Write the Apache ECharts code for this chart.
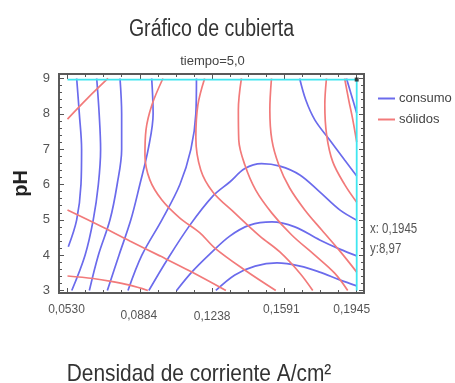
<!DOCTYPE html>
<html>
<head>
<meta charset="utf-8">
<script src="https://cdn.jsdelivr.net/npm/echarts@6/dist/echarts.min.js"></script>
<style>
  html, body { margin: 0; padding: 0; background: #ffffff; }
  #chart { width: 455px; height: 383px; }
</style>
</head>
<body>
<div id="chart"></div>
<script>
// Axis ticks and labels
const xMajor = [0.0530, 0.0884, 0.1238, 0.1591, 0.1945];
const xTickLabels = ['0,0530', '0,0884', '0,1238', '0,1591', '0,1945'];
const yMajor = [3, 4, 5, 6, 7, 8, 9];
const yTickLabels = ['3', '4', '5', '6', '7', '8', '9'];

// Crosshair readout
const cursorX = 0.1945;
const cursorY = 8.97;
const cursorLabels = ['x: 0,1945', 'y:8,97'];

// consumo contour lines: [densidad de corriente, pH]
const consumo1 = [[0.0575, 9], [0.0588, 8], [0.0599, 7], [0.0596, 6], [0.0575, 5], [0.0534, 4.24]];
const consumo2 = [[0.0673, 9], [0.0685, 8], [0.0692, 7], [0.0681, 6], [0.0656, 5], [0.0616, 4], [0.0551, 3]];
const consumo3 = [[0.0787, 9], [0.0795, 8], [0.0795, 7], [0.0773, 6], [0.0738, 5], [0.0681, 4], [0.0637, 3]];
const consumo4 = [[0.0942, 9], [0.0949, 8], [0.0925, 7], [0.0884, 6], [0.0840, 5], [0.0782, 4], [0.0725, 3]];
const consumo5 = [[0.1161, 9], [0.1158, 8], [0.1134, 7], [0.1080, 6], [0.0992, 5], [0.0894, 4], [0.0826, 3]];
const consumo6 = [[0.0928, 3.0], [0.1021, 3.90], [0.1129, 4.85], [0.1241, 5.67], [0.1324, 6.07], [0.1398, 6.45],
                  [0.1479, 6.59], [0.1569, 6.52], [0.1667, 6.27], [0.1764, 5.79], [0.1862, 5.28], [0.1945, 4.99]];
const consumo7 = [[0.1064, 3.0], [0.1138, 3.52], [0.1226, 4.03], [0.1324, 4.54], [0.1422, 4.85], [0.1530, 4.94],
                  [0.1642, 4.80], [0.1764, 4.43], [0.1862, 4.17], [0.1945, 3.98]];
const consumo8 = [[0.1256, 3.0], [0.1349, 3.44], [0.1448, 3.69], [0.1555, 3.78], [0.1668, 3.69], [0.1764, 3.52],
                  [0.1862, 3.30], [0.1945, 3.13]];
const consumo9 = [[0.1666, 9], [0.1696, 8.39], [0.1740, 7.83], [0.1813, 7.26], [0.1886, 6.69], [0.1945, 6.24]];
const consumo10 = [[0.1895, 9], [0.1916, 8.59], [0.1945, 8.02]];

// sólidos contour lines: [densidad de corriente, pH]
const solidos1 = [[0.0530, 7.85], [0.0630, 8.45], [0.0728, 9.0]];
const solidos2 = [[0.0530, 3.41], [0.0655, 3.34], [0.0743, 3.26], [0.0835, 3.15], [0.0923, 3.0]];
const solidos3 = [[0.0530, 5.28], [0.0689, 4.83], [0.0835, 4.40], [0.0982, 3.98], [0.1129, 3.55], [0.1305, 3.0]];
const solidos4 = [[0.0997, 9], [0.0943, 8.25], [0.0914, 7.54], [0.0909, 6.83], [0.0933, 6.13], [0.0992, 5.56],
                  [0.1080, 5.05], [0.1178, 4.63], [0.1251, 4.20], [0.1397, 3.58], [0.1549, 3.0]];
const solidos5 = [[0.1201, 9], [0.1168, 8.25], [0.1158, 7.32], [0.1182, 6.41], [0.1241, 5.79], [0.1349, 5.19],
                  [0.1471, 4.54], [0.1569, 4.09], [0.1667, 3.49], [0.1730, 3.0]];
const solidos6 = [[0.1381, 9], [0.1366, 8.11], [0.1368, 7.26], [0.1398, 6.55], [0.1451, 5.84], [0.1530, 5.19],
                  [0.1627, 4.57], [0.1740, 4.0], [0.1837, 3.49], [0.1901, 3.0]];
const solidos7 = [[0.1528, 9], [0.1520, 8.11], [0.1530, 7.26], [0.1564, 6.55], [0.1617, 5.90], [0.1691, 5.28],
                  [0.1774, 4.71], [0.1862, 4.12], [0.1945, 3.52]];
const solidos8 = [[0.1797, 9], [0.1789, 8.25], [0.1798, 7.40], [0.1828, 6.64], [0.1887, 5.99], [0.1945, 5.50]];
const solidos9 = [[0.1886, 9], [0.1906, 8.39], [0.1926, 7.83], [0.1945, 7.20]];

const consumoLines = [consumo1, consumo2, consumo3, consumo4, consumo5, consumo6, consumo7, consumo8, consumo9, consumo10];
const solidosLines = [solidos1, solidos2, solidos3, solidos4, solidos5, solidos6, solidos7, solidos8, solidos9];

const BLUE = '#6b6bec';
const RED = '#f27a7a';
const CYAN = '#3fe6f0';
const FONT = "'Liberation Sans', Arial, sans-serif";

// Frame extends slightly beyond the data range
const X_MIN = 0.04885, X_MAX = 0.19807;
const Y_MIN = 2.929, Y_MAX = 9.127;

// Minor tick positions: four steps between x labels, 0.2 pH steps
const xMinor = [];
for (let i = 0; i < xMajor.length - 1; i++) {
  for (let k = 1; k < 4; k++) xMinor.push(xMajor[i] + (xMajor[i + 1] - xMajor[i]) * k / 4);
}
const yMinor = [];
for (let v = 3; v < 9; v++) for (let k = 1; k < 5; k++) yMinor.push(v + k * 0.2);

const tickColor = '#555';
function xAxisDef(position, ticks, len, withLabels) {
  return {
    type: 'value', position, min: X_MIN, max: X_MAX,
    axisLine: { show: false },
    splitLine: { show: false },
    axisTick: { show: true, inside: true, length: len, customValues: ticks, lineStyle: { color: tickColor, width: 1 } },
    axisLabel: withLabels ? {
      show: true, customValues: xMajor, margin: 11,
      fontFamily: FONT, fontSize: 12, color: '#555',
      formatter: function (v) {
        let idx = 0, best = Infinity;
        xMajor.forEach(function (m, i) { if (Math.abs(m - v) < best) { best = Math.abs(m - v); idx = i; } });
        return '{s' + idx + '|' + xTickLabels[idx] + '}';
      },
      rich: {
        s0: { padding: [0, 2, 0, 0] },
        s1: { padding: [6, 2, 0, 0] },
        s2: { padding: [7, 0, 0, 0] },
        s3: { padding: [0, 6, 0, 0] },
        s4: { padding: [0, 10, 0, 0] }
      }
    } : { show: false }
  };
}
function yAxisDef(position, ticks, len, withLabels) {
  return {
    type: 'value', position, min: Y_MIN, max: Y_MAX,
    axisLine: { show: false },
    splitLine: { show: false },
    axisTick: { show: true, inside: true, length: len, customValues: ticks, lineStyle: { color: tickColor, width: 1 } },
    axisLabel: withLabels ? {
      show: true, customValues: yMajor, margin: 9,
      fontFamily: FONT, fontSize: 13, color: '#555',
      formatter: function (v) { return yTickLabels[yMajor.indexOf(Math.round(v))]; }
    } : { show: false },
    name: withLabels ? 'pH' : '',
    nameLocation: 'middle', nameGap: 26, nameRotate: 90,
    nameTextStyle: { fontFamily: FONT, fontWeight: 'bold', fontSize: 20, color: '#222' }
  };
}

function contour(name, data, color) {
  return {
    type: 'line', name: name, data: data,
    xAxisIndex: 0, yAxisIndex: 0,
    symbol: 'none', smooth: 0.35, silent: true,
    lineStyle: { color: color, width: 1.7 },
    itemStyle: { color: color },
    z: 3
  };
}

const series = [];
consumoLines.forEach(function (d) { series.push(contour('consumo', d, BLUE)); });
solidosLines.forEach(function (d) { series.push(contour('sólidos', d, RED)); });

// Crosshair at the selected point
series.push({
  type: 'line', name: 'cursorH', data: [[xMajor[0], cursorY], [cursorX, cursorY]],
  symbol: 'none', silent: true, lineStyle: { color: CYAN, width: 1.8 }, z: 4
});
series.push({
  type: 'line', name: 'cursorV', data: [[cursorX, cursorY], [cursorX, yMajor[0]]],
  symbol: 'none', silent: true, lineStyle: { color: CYAN, width: 1.8 }, z: 4
});
series.push({
  type: 'scatter', name: 'cursorPoint', data: [[cursorX, cursorY]],
  symbol: 'rect', symbolSize: 4, silent: true, itemStyle: { color: '#1a1a1a' }, z: 5
});

function label(text, x, y, size, color, align, sx) {
  return {
    type: 'text', x: x, y: y, scaleX: sx, silent: true,
    style: { text: text, fontFamily: FONT, fontSize: size, fill: color,
             align: align, textAlign: align, verticalAlign: 'top', textVerticalAlign: 'top' }
  };
}

const chart = echarts.init(document.getElementById('chart'), null, { renderer: 'canvas' });
chart.setOption({
  animation: false,
  backgroundColor: '#ffffff',
  grid: { left: 59, top: 74, width: 305, height: 219, show: true, borderColor: '#5a5a5a', borderWidth: 2, backgroundColor: 'transparent' },
  xAxis: [
    xAxisDef('bottom', xMajor, 5, true),
    xAxisDef('bottom', xMinor, 3, false),
    xAxisDef('top', xMajor, 5, false),
    xAxisDef('top', xMinor, 3, false)
  ],
  yAxis: [
    yAxisDef('left', yMajor, 5, true),
    yAxisDef('left', yMinor, 3, false),
    yAxisDef('right', yMajor, 5, false),
    yAxisDef('right', yMinor, 3, false)
  ],
  legend: {
    orient: 'vertical', left: 378, top: 92, padding: 0,
    data: ['consumo', 'sólidos'],
    icon: 'rect', itemWidth: 17, itemHeight: 2, itemGap: 8,
    textStyle: { fontFamily: FONT, fontSize: 13, color: '#444', padding: [0, 0, 0, -1] },
    selectedMode: false
  },
  graphic: [
    label('Gráfico de cubierta', 211.5, 18, 23, '#333', 'center', 0.85),
    label('tiempo=5,0', 212.5, 55, 13, '#444', 'center', 1),
    label(cursorLabels[0], 370, 222, 14, '#555', 'left', 0.82),
    label(cursorLabels[1], 370, 242, 14, '#555', 'left', 0.82),
    label('Densidad de corriente A/cm²', 199, 362, 24, '#333', 'center', 0.87)
  ],
  series: series
});
</script>
</body>
</html>
